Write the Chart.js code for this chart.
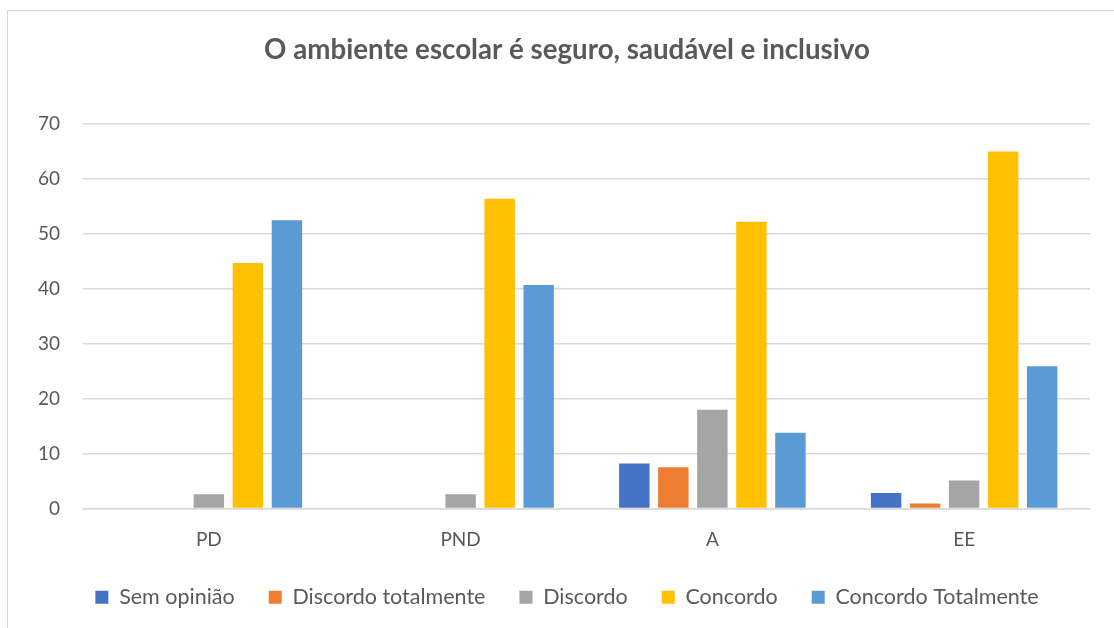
<!DOCTYPE html>
<html>
<head>
<meta charset="utf-8">
<script src="https://cdn.jsdelivr.net/npm/chart.js@4.4.1/dist/chart.umd.min.js"></script>
<style>
  html, body { margin: 0; padding: 0; background: #ffffff; }
  body { width: 1114px; height: 628px; position: relative; overflow: hidden; }
  #frame { position: absolute; left: 7px; top: 10px; width: 1120px; height: 640px; border: 1.5px solid #d9d9d9; box-sizing: border-box; }
  #wrap { position: absolute; left: 0; top: 0; width: 1134px; height: 628px; }
</style>
</head>
<body>
<div id="frame"></div>
<div id="wrap"><canvas id="c" width="1134" height="628"></canvas></div>
<script>
const categories = ["PD", "PND", "A", "EE"];
const seriesNames = ["Sem opinião", "Discordo totalmente", "Discordo", "Concordo", "Concordo Totalmente"];
const semOpiniao = [0, 0, 8.2, 2.8];
const discordoTotalmente = [0, 0, 7.5, 0.9];
const discordo = [2.6, 2.6, 18.0, 5.1];
const concordo = [44.7, 56.4, 52.2, 65.0];
const concordoTotalmente = [52.5, 40.7, 13.8, 25.9];
const yTicks = [0, 10, 20, 30, 40, 50, 60, 70];
const colors = ["#4472C4", "#ED7D31", "#A5A5A5", "#FFC000", "#5B9BD5"];
const titleText = "O ambiente escolar é seguro, saudável e inclusivo";

const seriesValues = [semOpiniao, discordoTotalmente, discordo, concordo, concordoTotalmente];
const FONT = "Lato";
const TEXT = "#595959";

const ctx = document.getElementById('c').getContext('2d');
new Chart(ctx, {
  type: 'bar',
  data: {
    labels: categories,
    datasets: seriesNames.map((name, i) => ({
      label: name,
      data: seriesValues[i],
      backgroundColor: colors[i],
      borderWidth: 0,
      categoryPercentage: 0.775,
      barPercentage: 0.78
    }))
  },
  options: {
    responsive: false,
    animation: false,
    devicePixelRatio: 1,
    layout: { padding: { left: 0, right: 0, top: 0, bottom: 10 } },
    plugins: {
      title: {
        display: true,
        text: titleText,
        color: TEXT,
        font: { family: FONT, size: 27.7, weight: 'bold' },
        padding: { top: 33.6, bottom: 57.2 }
      },
      legend: {
        position: 'bottom',
        labels: {
          color: TEXT,
          font: { family: FONT, size: 21.5 },
          boxWidth: 13,
          boxHeight: 13,
          padding: 34
        }
      },
      tooltip: { enabled: false }
    },
    scales: {
      x: {
        grid: { display: false, drawTicks: false },
        border: { display: true, color: '#d9d9d9', width: 1.5 },
        ticks: { color: TEXT, font: { family: FONT, size: 19 }, padding: 20 },
        afterFit: s => { s.height = 44; }
      },
      y: {
        min: 0,
        max: 70,
        afterBuildTicks: s => { s.ticks = yTicks.map(v => ({ value: v })); },
        grid: { color: '#d9d9d9', lineWidth: 1.5, drawTicks: false },
        border: { display: false },
        ticks: { color: TEXT, font: { family: FONT, size: 19 }, padding: 23 },
        afterFit: s => { s.width = 83; }
      },
      spacer: {
        type: 'linear',
        position: 'right',
        display: true,
        grid: { display: false, drawTicks: false },
        border: { display: false },
        ticks: { display: false },
        afterFit: s => { s.width = 44; }
      }
    }
  }
});
</script>
</body>
</html>
